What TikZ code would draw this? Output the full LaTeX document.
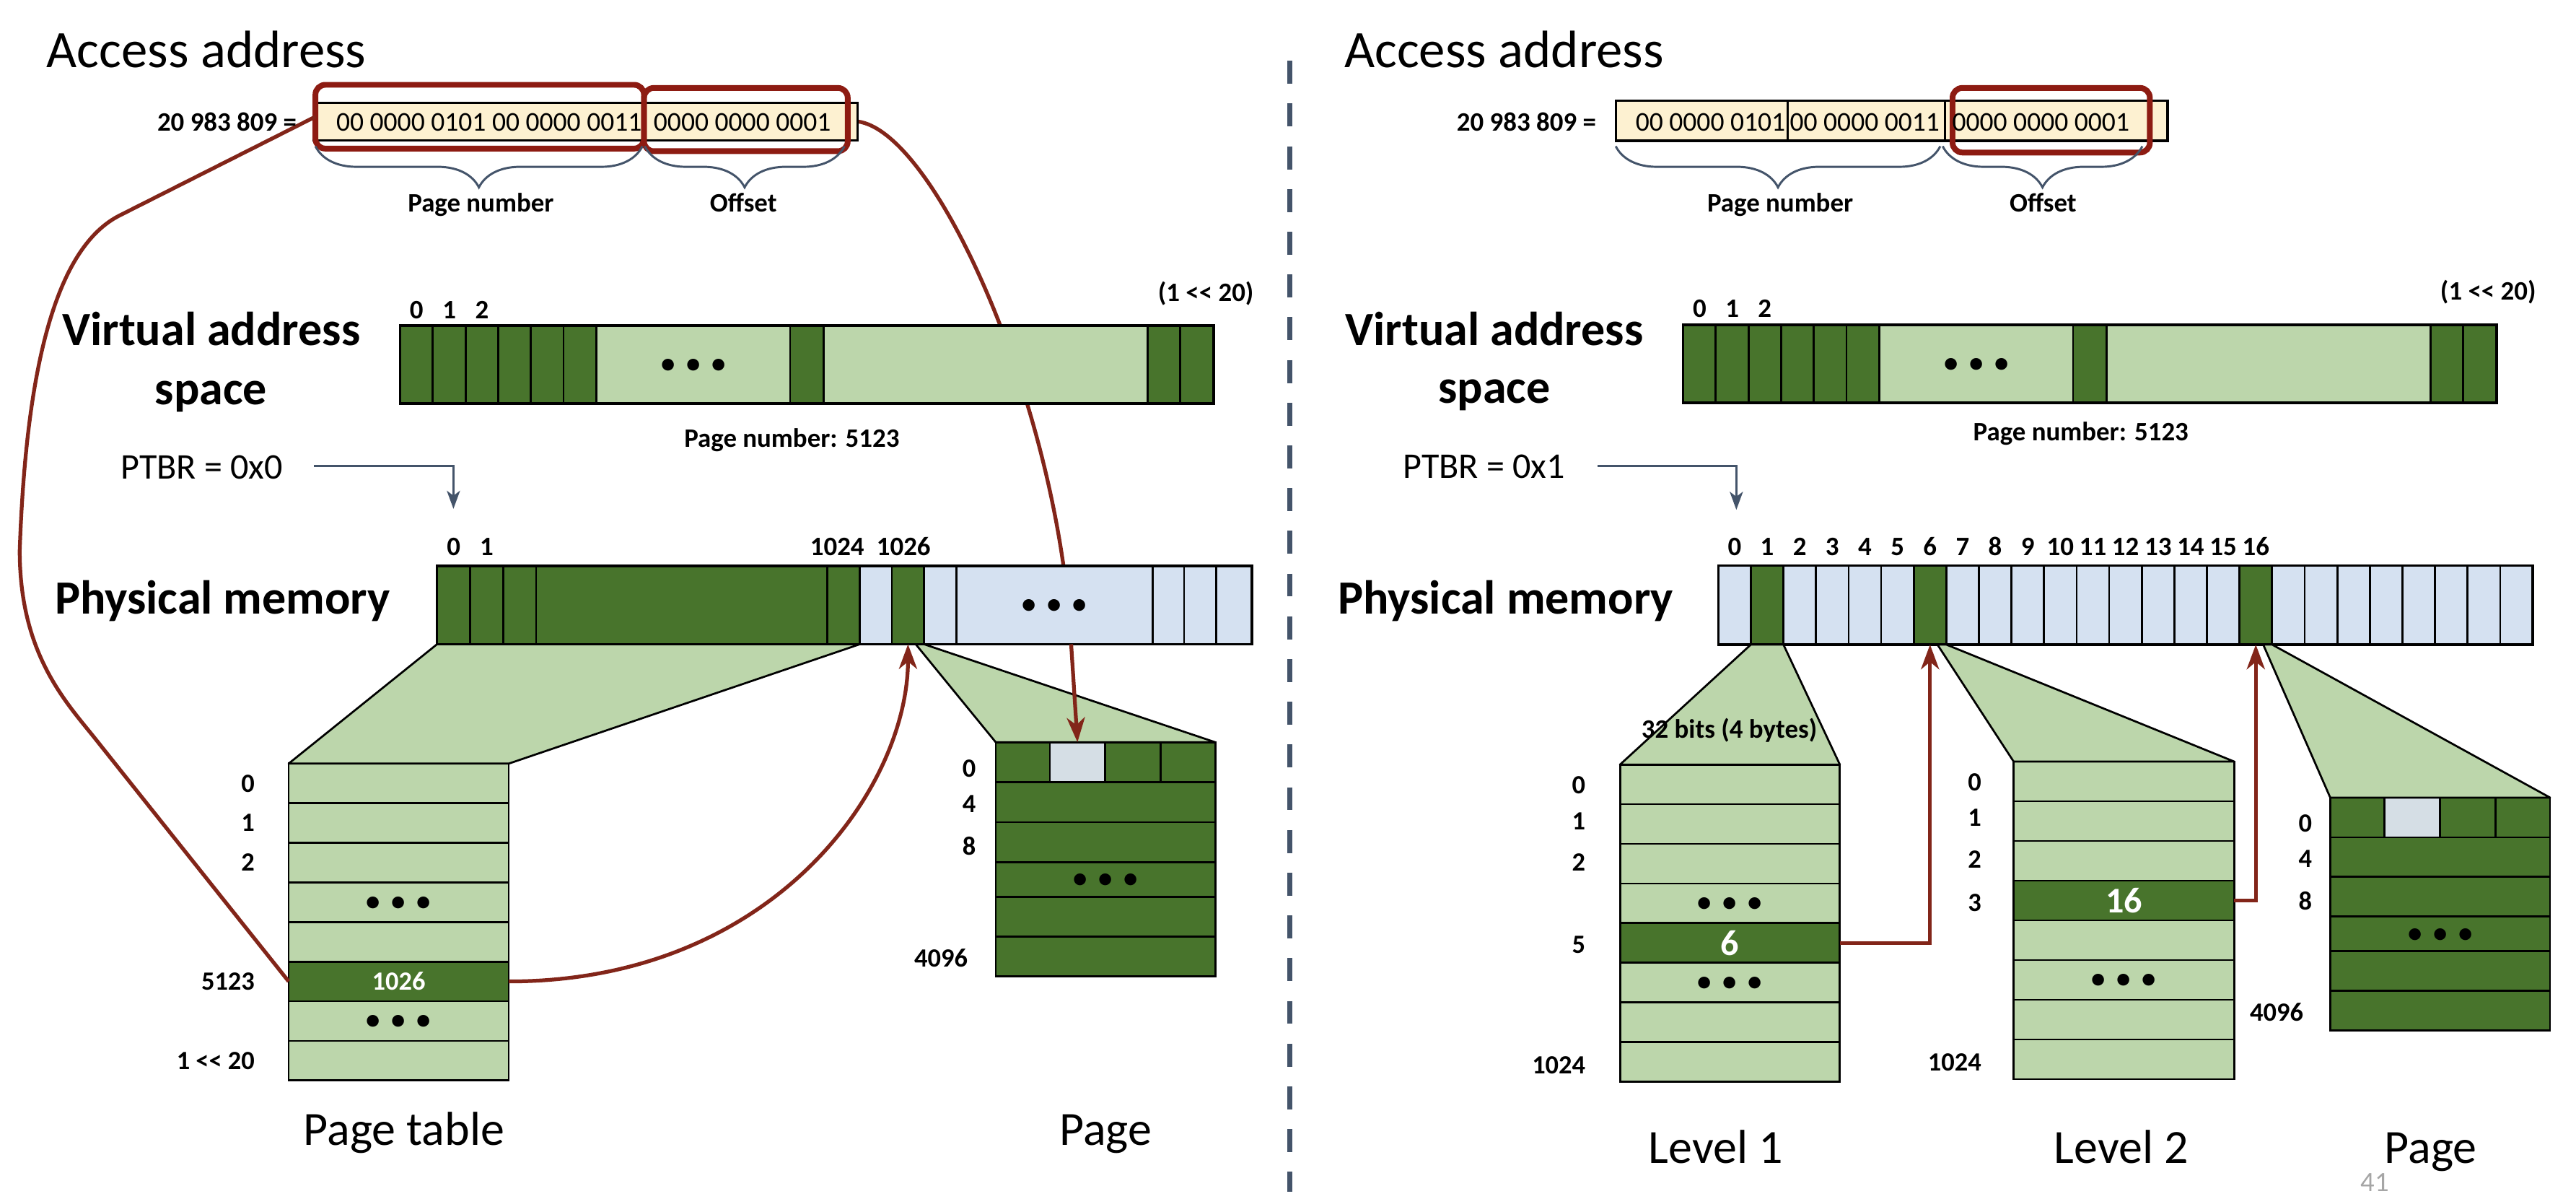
\documentclass[tikz,border=0pt]{standalone}
\usepackage{fontspec}
\setmainfont{Carlito}
\usetikzlibrary{arrows.meta,decorations.pathreplacing,calc}
\pgfdeclarelayer{behind}
\pgfsetlayers{behind,main}
\definecolor{dkg}{HTML}{48742C}
\definecolor{ltg}{HTML}{BCD6AB}
\definecolor{ltb}{HTML}{D5E1F1}
\definecolor{gryb}{HTML}{D5DEE5}
\definecolor{addrfill}{HTML}{FDF1D1}
\definecolor{redrect}{HTML}{8D1B12}
\definecolor{redline}{HTML}{822519}
\definecolor{slate}{HTML}{44546A}
\definecolor{slidegray}{HTML}{A6A6A6}
\tikzset{
  cellbox/.style={draw=black, line width=1.2pt, inner sep=0pt, outer sep=0pt, anchor=north west},
  addrbox/.style={cellbox, fill=addrfill, line width=1.5pt},
  redbox/.style={draw=redrect, line width=3.5pt, rounded corners=6pt, inner sep=0pt, outer sep=0pt, anchor=north west},
  redcurve/.style={draw=redline, line width=2.3pt},
  redarrow/.style={draw=redline, line width=2.3pt, -{Stealth[length=15pt,width=11pt,inset=4.5pt]}},
  ptbrarrow/.style={draw=slate, line width=1.3pt, -{Stealth[length=11pt,width=8pt,inset=3pt]}},
  bracedraw/.style={draw=slate, line width=1.3pt, decorate, decoration={brace, mirror, amplitude=25pt, aspect=0.5}},
  trap/.style={fill=ltg, draw=black, line width=1.2pt, line join=round},
  txt/.style={inner sep=0pt, outer sep=0pt},
  titlet/.style={txt, font=\fontsize{32}{38}\selectfont, anchor=base west},
  bigb/.style={txt, font=\fontsize{29}{35}\selectfont\bfseries, anchor=base},
  smallb/.style={txt, font=\fontsize{16.2}{19}\selectfont\bfseries, anchor=base},
  bitst/.style={txt, font=\fontsize{16.5}{19}\selectfont, anchor=base west},
  ptbrt/.style={txt, font=\fontsize{22}{26}\selectfont, anchor=base west},
  capt/.style={txt, font=\fontsize{29}{35}\selectfont, anchor=base},
  rowlbl/.style={txt, font=\fontsize{16}{19}\selectfont\bfseries, anchor=east},
  dotst/.style={txt, font=\fontsize{17}{20}\selectfont\bfseries, yshift=-0.8pt},
  rowwhite/.style={txt, text=white, font=\fontsize{16}{19}\selectfont\bfseries},
  rowwhitebig/.style={txt, text=white, font=\fontsize{22}{26}\selectfont\bfseries},
}
\newcommand{\tdots}{\makebox[15.4pt]{•}\makebox[15.4pt]{•}\makebox[15.4pt]{•}}
\newcommand{\shl}{<\kern0pt<}
\newcommand{\cellnode}[6]{\node[cellbox, fill=#6, minimum width={(#4)-(#2)}, minimum height={(#5)-(#3)}] (#1) at ({#2},{#3}) {};}
\newcommand{\vasbar}[3]{%
  \foreach \a/\b/\f [count=\i] in {0/19.95/dkg,19.95/39.9/dkg,39.9/59.8/dkg,59.8/79.6/dkg,79.6/99.5/dkg,99.5/119.6/dkg,119.6/237.4/ltg,237.4/257.8/dkg,257.8/455/ltg,455/474.9/dkg,474.9/495.2/dkg}{%
    \cellnode{#1\i}{#2+\a}{#3}{#2+\b}{#3+47.5}{\f}}%
  \draw[line width=1.6pt] (#11.north west) rectangle (#111.south east);
}
\begin{document}
\begin{tikzpicture}[x=1pt,y=-1pt]
\useasboundingbox (0,0) rectangle (1568,729.1);
\begin{pgfonlayer}{behind}
  \fill[white] (0,0) rectangle (1568,729.1);
\end{pgfonlayer}

% ---------- separator ----------
\coordinate (sepTop) at (785,37);
\coordinate (sepBot) at (785,725);
\draw[slate, line width=3.3pt, dash pattern=on 14pt off 12pt] (sepTop) -- (sepBot);

% ================= LEFT =================
\node[addrbox, minimum width=200pt, minimum height=22.8pt] (addrL1) at (191,62.5) {};
\node[addrbox, minimum width=131pt, minimum height=22.8pt] (addrL2) at (391,62.5) {};

\vasbar{vL}{243.5}{198}

\foreach \a/\b/\f [count=\i] in {266/286.2/dkg,286.2/306.3/dkg,306.3/326.3/dkg,326.3/503.7/dkg,503.7/523.3/dkg,523.3/542.9/ltb,542.9/562.5/dkg,562.5/582.1/ltb,582.1/701.7/ltb,701.7/720.8/ltb,720.8/740.4/ltb,740.4/762/ltb}{%
  \cellnode{pmL\i}{\a}{344.4}{\b}{392}{\f}}
\draw[line width=1.6pt] (pmL1.north west) rectangle (pmL12.south east);

% page table
\foreach \i in {0,...,7}{%
  \pgfmathsetmacro\ya{464.6+\i*24.1}\pgfmathsetmacro\yb{\ya+24.1}%
  \def\f{ltg}\ifnum\i=5 \def\f{dkg}\fi
  \cellnode{ptL\i}{175.7}{\ya}{309.7}{\yb}{\f}}
% page (left)
\foreach \a/\b/\f/\n in {606.1/639/dkg/a,639/672.7/gryb/b,672.7/706.4/dkg/c,706.4/739.7/dkg/d}{%
  \cellnode{pgL0\n}{\a}{451.6}{\b}{475.9}{\f}}
\foreach \ya/\yb [count=\i] in {475.9/500.3,500.3/524.5,524.5/545.8,545.8/569.8,569.8/594}{%
  \cellnode{pgL\i}{606.1}{\ya}{739.7}{\yb}{dkg}}

% trapezoids left
\draw[trap] (pmL1.south west) -- (pmL5.south east) -- (ptL0.north east) -- (ptL0.north west) -- cycle;
\draw[trap] ($(pmL7.south)+(4.7,0)$) -- (pmL7.south east) -- (pgL0d.north east) -- (pgL0a.north west) -- cycle;

% ================= RIGHT =================
\node[addrbox, minimum width=104.6pt, minimum height=24.4pt] (addrR1) at (983.5,61.2) {};
\node[addrbox, minimum width=95.9pt, minimum height=24.4pt] (addrR2) at (1088.1,61.2) {};
\node[addrbox, minimum width=135.3pt, minimum height=24.4pt] (addrR3) at (1184,61.2) {};

\vasbar{vR}{1024.4}{197.7}

\foreach \i in {0,...,24}{%
  \pgfmathsetmacro\xa{1045.9+\i*19.83}\pgfmathsetmacro\xb{\xa+19.83}%
  \def\f{ltb}\ifnum\i=1 \def\f{dkg}\fi\ifnum\i=6 \def\f{dkg}\fi\ifnum\i=16 \def\f{dkg}\fi
  \cellnode{pmR\i}{\xa}{344.1}{\xb}{392.2}{\f}}
\draw[line width=1.6pt] (pmR0.north west) rectangle (pmR24.south east);

% level 1
\foreach \i in {0,...,7}{%
  \pgfmathsetmacro\ya{465.2+\i*24.11}\pgfmathsetmacro\yb{\ya+24.11}%
  \def\f{ltg}\ifnum\i=4 \def\f{dkg}\fi
  \cellnode{lar\i}{986.1}{\ya}{1119.9}{\yb}{\f}}
% level 2
\foreach \i in {0,...,7}{%
  \pgfmathsetmacro\ya{463.4+\i*24.15}\pgfmathsetmacro\yb{\ya+24.15}%
  \def\f{ltg}\ifnum\i=3 \def\f{dkg}\fi
  \cellnode{lbr\i}{1225.7}{\ya}{1360}{\yb}{\f}}
% page (right)
\foreach \a/\b/\f/\n in {1418.4/1451.3/dkg/a,1451.3/1485.1/gryb/b,1485.1/1518.9/dkg/c,1518.9/1552.2/dkg/d}{%
  \cellnode{pgR0\n}{\a}{485.3}{\b}{509.5}{\f}}
\foreach \ya/\yb [count=\i] in {509.5/533.5,533.5/557.6,557.6/578.8,578.8/602.8,602.8/626.9}{%
  \cellnode{pgR\i}{1418.4}{\ya}{1552.2}{\yb}{dkg}}

% trapezoids right
\draw[trap] (pmR1.south west) -- (pmR1.south east) -- (lar0.north east) -- (lar0.north west) -- cycle;
\draw[trap] ($(pmR6.south)+(4.5,0)$) -- (pmR6.south east) -- (lbr0.north east) -- (lbr0.north west) -- cycle;
\draw[trap] ($(pmR16.south)+(4.5,0)$) -- (pmR16.south east) -- (pgR0d.north east) -- (pgR0a.north west) -- cycle;

% ---------- red highlight boxes ----------
\node[redbox, minimum width=200pt, minimum height=38.8pt] (rr1) at (192,51.6) {};
\node[redbox, minimum width=124pt, minimum height=38.5pt] (rr2) at (392,53.5) {};
\node[redbox, minimum width=120.1pt, minimum height=39.3pt] (rr3) at (1188.5,53.5) {};

% ---------- braces ----------
\draw[bracedraw] (192,89) -- (391,89);
\draw[bracedraw] (392.5,89) -- (514,89);
\draw[bracedraw] (983.5,89) -- (1181,89);
\draw[bracedraw] (1182.5,89) -- (1304,89);

% ---------- red connectors ----------
\coordinate (rcj) at (652,392);
\begin{pgfonlayer}{behind}
  \draw[redcurve] (addrL2.east) .. controls (570,80) and (645,250) .. (rcj);
\end{pgfonlayer}
\draw[redarrow] (rcj) -- (pgL0b.north);
\draw[redcurve, line join=round] (rr1.west) -- (73,131) .. controls (35,150) and (16,220) .. (12,335)
   .. controls (12,400) and (42,429) .. (60,452) -- (ptL5.west);
\draw[redarrow] (ptL5.east) .. controls (470,597.15) and (552.7,480) .. (pmL7.south);
\draw[redarrow] (lar4.east) -| (pmR6.south);
\draw[redarrow] (lbr3.east) -| (pmR16.south);

% ---------- PTBR arrows ----------
\coordinate (ptbrLs) at (191,283.6);
\coordinate (ptbrLe) at (276,309.6);
\draw[ptbrarrow] (ptbrLs) -| (ptbrLe);
\coordinate (ptbrRs) at (972.6,283.7);
\coordinate (ptbrRe) at (1056.9,310.2);
\draw[ptbrarrow] (ptbrRs) -| (ptbrRe);

% ================= TEXT LEFT =================
\node[titlet] (accL) at (28.4,41) {Access address};
\node[smallb, anchor=base east] (numL) at (180.5,79.8) {20 983 809 =};
\node[bitst] (bitsL1) at (204.7,79.8) {00 0000 0101 00 0000 0011};
\node[bitst] (bitsL2) at (397.9,79.8) {0000 0000 0001};
\node[smallb] (pnL) at (292.7,129) {Page number};
\node[smallb] (offL) at (452.5,129) {Offset};
\node[bigb] (vasL1) at (128.6,210) {Virtual address};
\node[bigb] (vasL2) at (128.5,246) {space};
\node[smallb] (vlL0) at (253.5,193.7) {0};
\node[smallb] (vlL1) at (273.5,193.7) {1};
\node[smallb] (vlL2) at (293.4,193.7) {2};
\node[smallb] (vlLn) at (734,183.3) {(1 \shl{} 20)};
\node[dotst] (vdL) at (vL7.center) {\tdots};
\node[smallb] (pn5123L) at (482,272) {Page number: 5123};
\node[ptbrt] (ptbrL) at (73.5,291.2) {PTBR = 0x0};
\node[bigb] (pmtL) at (135.5,373.5) {Physical memory};
\node[smallb] (plL0) at (276.1,337.9) {0};
\node[smallb] (plL1) at (296.2,337.9) {1};
\node[smallb] (plL2) at (509.6,337.9) {1024};
\node[smallb] (plL3) at (550,337.9) {1026};
\node[dotst] (pmdL) at (pmL9.center) {\tdots};
\node[rowlbl] (ptl0) at (155,476.65) {0};
\node[rowlbl] (ptl1) at (155,500.75) {1};
\node[rowlbl] (ptl2) at (155,524.85) {2};
\node[rowlbl] (ptl5) at (155,597.15) {5123};
\node[rowlbl] (ptl7) at (155,645.35) {1 \shl{} 20};
\node[dotst] (ptd1) at (ptL3.center) {\tdots};
\node[dotst] (ptd2) at (ptL6.center) {\tdots};
\node[rowwhite] (ptv) at (ptL5.center) {1026};
\node[rowlbl] (pgl0) at (594,467.8) {0};
\node[rowlbl] (pgl1) at (594,489.1) {4};
\node[rowlbl] (pgl2) at (594,514.8) {8};
\node[rowlbl] (pgl3) at (589,582.7) {4096};
\node[dotst] (pgdL) at (pgL3.center) {\tdots};
\node[capt] (capPT) at (245.9,697) {Page table};
\node[capt] (capPgL) at (673,697) {Page};

% ================= TEXT RIGHT =================
\node[titlet] (accR) at (818.3,41) {Access address};
\node[smallb, anchor=base east] (numR) at (971.5,79.8) {20 983 809 =};
\node[bitst] (bitsR1) at (995.6,79.8) {00 0000 0101};
\node[bitst] (bitsR2) at (1089.5,79.8) {00 0000 0011};
\node[bitst] (bitsR3) at (1188.3,79.8) {0000 0000 0001};
\node[smallb] (pnR) at (1083.6,129) {Page number};
\node[smallb] (offR) at (1243.6,129) {Offset};
\node[bigb] (vasR1) at (909.6,210) {Virtual address};
\node[bigb] (vasR2) at (909.6,245.5) {space};
\node[smallb] (vlR0) at (1034.5,193.1) {0};
\node[smallb] (vlR1) at (1054.4,193.1) {1};
\node[smallb] (vlR2) at (1074.2,193.1) {2};
\node[smallb] (vlRn) at (1514.5,182.3) {(1 \shl{} 20)};
\node[dotst] (vdR) at (vR7.center) {\tdots};
\node[smallb] (pn5123R) at (1266.6,268) {Page number: 5123};
\node[ptbrt] (ptbrR) at (854,290.9) {PTBR = 0x1};
\node[bigb] (pmtR) at (916.5,373.4) {Physical memory};
\foreach \i in {0,...,16}{%
  \pgfmathsetmacro\xc{1045.9+(\i+0.5)*19.83}%
  \node[smallb] (plR\i) at (\xc,338) {\i};}
\node[smallb] (bits32) at (1052.6,449) {32 bits (4 bytes)};
\node[rowlbl] (lal0) at (965,477.8) {0};
\node[rowlbl] (lal1) at (965,499.7) {1};
\node[rowlbl] (lal2) at (965,524.8) {2};
\node[rowlbl] (lal5) at (965,574.8) {5};
\node[rowlbl] (lal7) at (965,648.3) {1024};
\node[dotst] (lad1) at (lar3.center) {\tdots};
\node[dotst] (lad2) at (lar5.center) {\tdots};
\node[rowwhitebig] (lav) at (lar4.center) {6};
\node[rowlbl] (lbl0) at (1206,476.1) {0};
\node[rowlbl] (lbl1) at (1206,497.5) {1};
\node[rowlbl] (lbl2) at (1206,523) {2};
\node[rowlbl] (lbl3) at (1206,549.3) {3};
\node[rowlbl] (lbl7) at (1206,646.5) {1024};
\node[dotst] (lbd1) at (lbr5.center) {\tdots};
\node[rowwhitebig] (lbv) at (lbr3.center) {16};
\node[rowlbl] (pgr0) at (1407.3,501.2) {0};
\node[rowlbl] (pgr1) at (1407.3,522.4) {4};
\node[rowlbl] (pgr2) at (1407.3,548.2) {8};
\node[rowlbl] (pgr3) at (1402,615.9) {4096};
\node[dotst] (pgdR) at (pgR3.center) {\tdots};
\node[capt] (capL1) at (1044.4,707.7) {Level 1};
\node[capt] (capL2) at (1291.2,707.7) {Level 2};
\node[capt] (capPgR) at (1479.6,707.7) {Page};
\node[txt, anchor=base, font=\fontsize{17}{20}\selectfont, text=slidegray] (slno) at (1445.7,725) {41};
\end{tikzpicture}
\end{document}
